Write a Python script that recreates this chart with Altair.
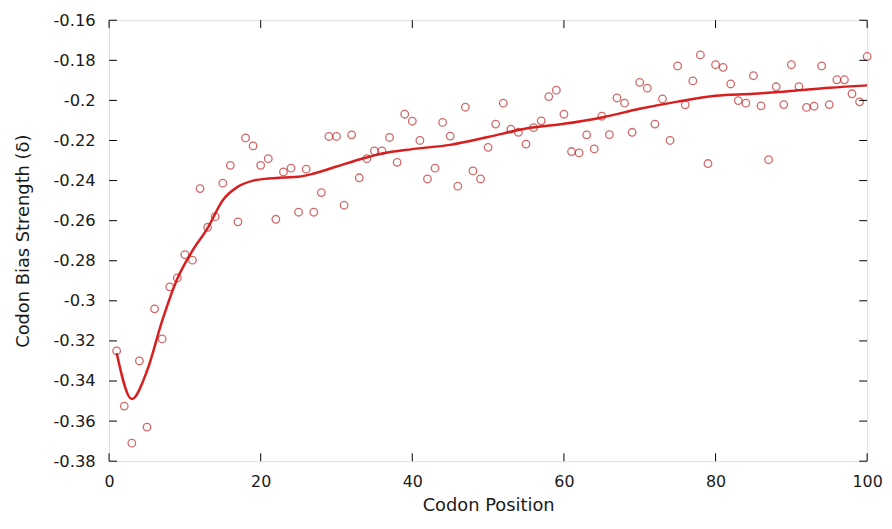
import altair as alt
import pandas as pd

positions = list(range(1, 101))
bias = [
    -0.325, -0.3525, -0.371, -0.330, -0.363, -0.304, -0.319, -0.293, -0.2886, -0.277,
    -0.2797, -0.244, -0.2633, -0.258, -0.2413, -0.2324, -0.2606, -0.2187, -0.2227, -0.2324,
    -0.2291, -0.2593, -0.2357, -0.2338, -0.2558, -0.2343, -0.2558, -0.246, -0.218, -0.218,
    -0.2523, -0.2172, -0.2386, -0.2291, -0.2252, -0.2252, -0.2185, -0.2309, -0.2069, -0.2104,
    -0.220, -0.2392, -0.2338, -0.211, -0.2178, -0.2428, -0.2034, -0.2352, -0.2392, -0.2234,
    -0.2118, -0.2014, -0.2143, -0.2159, -0.2218, -0.2136, -0.2102, -0.1981, -0.1949, -0.2069,
    -0.2255, -0.2262, -0.2172, -0.2242, -0.2079, -0.2171, -0.1988, -0.2014, -0.2159, -0.191,
    -0.1939, -0.2118, -0.1993, -0.220, -0.1828, -0.2022, -0.1903, -0.1773, -0.2315, -0.1822,
    -0.1835, -0.1918, -0.2001, -0.2014, -0.1877, -0.2027, -0.2296, -0.1932, -0.2021, -0.1822,
    -0.1931, -0.2035, -0.2029, -0.1828, -0.2021, -0.1897, -0.1897, -0.1967, -0.2007, -0.1781,
]

trend_x = [1, 3, 5, 7, 9, 11, 13, 15, 17, 19, 21, 23, 25, 27, 30, 33, 36, 40, 45, 50,
           55, 60, 65, 70, 75, 80, 85, 90, 95, 100]
trend_y = [-0.326, -0.349, -0.335, -0.310, -0.289, -0.275, -0.2637, -0.2498, -0.243, -0.240,
           -0.2390, -0.2385, -0.2381, -0.2365, -0.2330, -0.2295, -0.2265, -0.2243, -0.2222, -0.2183,
           -0.2140, -0.2117, -0.2085, -0.2042, -0.2006, -0.1977, -0.1967, -0.1953, -0.1937, -0.1925]

x_ticks = [0, 20, 40, 60, 80, 100]
y_ticks = [-0.38, -0.36, -0.34, -0.32, -0.30, -0.28, -0.26, -0.24, -0.22, -0.20, -0.18, -0.16]

W, H = 765, 445
FONT = "DejaVu Sans"
TICK = 8
TXT = "#1a1a1a"

pts = pd.DataFrame({"x": positions, "y": bias})
trend = pd.DataFrame({"x": trend_x, "y": trend_y})
xt = pd.DataFrame({"x": x_ticks})
yt = pd.DataFrame({"y": y_ticks})

xscale = alt.Scale(domain=[0, 100], nice=False, zero=False)
yscale = alt.Scale(domain=[-0.38, -0.16], nice=False, zero=False)

xaxis = alt.Axis(values=x_ticks, ticks=False, grid=False, domain=False, labelPadding=13,
                 labelFontSize=16, labelFont=FONT, labelColor=TXT, labelFlush=False,
                 title="Codon Position", titleFont=FONT, titleFontSize=18,
                 titleFontWeight="normal", titleColor=TXT, titlePadding=7)
yaxis = alt.Axis(values=y_ticks, ticks=False, grid=False, domain=False, labelPadding=14,
                 labelFontSize=16.5, labelFont=FONT, labelColor=TXT, labelFlush=False,
                 labelExpr="toString(datum.value)",
                 title="Codon Bias Strength (δ)", titleFont=FONT, titleFontSize=18,
                 titleFontWeight="normal", titleColor=TXT, titlePadding=21)

points = alt.Chart(pts).mark_point(shape="circle", filled=False, size=58,
                                   color="#bf2a2a", strokeWidth=1.3).encode(
    x=alt.X("x:Q", scale=xscale, axis=xaxis),
    y=alt.Y("y:Q", scale=yscale, axis=yaxis),
)

line = alt.Chart(trend).mark_line(color="#d81e1e", strokeWidth=2.5, interpolate="monotone").encode(
    x=alt.X("x:Q", scale=xscale),
    y=alt.Y("y:Q", scale=yscale),
)

bottom_ticks = alt.Chart(xt).mark_rule(color="black", strokeWidth=1).encode(
    x=alt.X("x:Q", scale=xscale), y=alt.value(H), y2=alt.value(H - TICK))
top_ticks = alt.Chart(xt).mark_rule(color="black", strokeWidth=1).encode(
    x=alt.X("x:Q", scale=xscale), y=alt.value(0), y2=alt.value(TICK))
left_ticks = alt.Chart(yt).mark_rule(color="black", strokeWidth=1).encode(
    y=alt.Y("y:Q", scale=yscale), x=alt.value(0), x2=alt.value(TICK))
right_ticks = alt.Chart(yt).mark_rule(color="black", strokeWidth=1).encode(
    y=alt.Y("y:Q", scale=yscale), x=alt.value(W), x2=alt.value(W - TICK))

chart = alt.layer(line, points, bottom_ticks, top_ticks, left_ticks, right_ticks).properties(
    width=W, height=H,
    autosize=alt.AutoSizeParams(type="none"),
    padding={"left": 102, "top": 10, "right": 17, "bottom": 56},
).configure_view(stroke="black", strokeWidth=1.2).configure(background="white")

chart.save("out.html", embed_options={"renderer": "svg", "actions": False})
